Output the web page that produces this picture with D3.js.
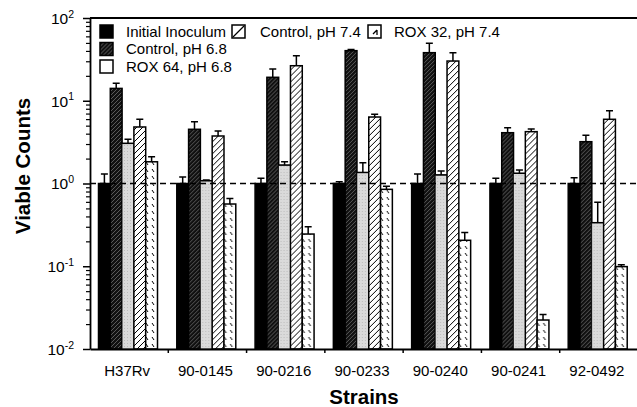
<!DOCTYPE html>
<html>
<head>
<meta charset="utf-8">
<script src="https://cdn.jsdelivr.net/npm/d3@7"></script>
<style>
  body { margin: 0; background: #fff; }
  text { font-family: "Liberation Sans", Arial, Helvetica, sans-serif; }
</style>
</head>
<body>
<div id="chart"></div>
<script>
// strains on the x axis
var strains = ["H37Rv", "90-0145", "90-0216", "90-0233", "90-0240", "90-0241", "92-0492"];
var seriesNames = ["Initial Inoculum", "Control, pH 6.8", "ROX 64, pH 6.8", "Control, pH 7.4", "ROX 32, pH 7.4"];

// bar heights (viable counts, relative)
var initialInoculum = [1, 1, 1, 1, 1, 1, 1];
var control68 = [14.1, 4.52, 19.2, 40.3, 38.1, 4.11, 3.2];
var rox64 = [3.06, 1.08, 1.67, 1.36, 1.27, 1.33, 0.336];
var control74 = [4.82, 3.75, 26.5, 6.36, 30.2, 4.23, 5.97];
var rox32 = [1.83, 0.565, 0.245, 0.85, 0.206, 0.0224, 0.099];

// top of the error bars
var initialInoculumErr = [1.30, 1.2, 1.16, 1.05, 1.30, 1.16, 1.17];
var control68Err = [16.3, 5.58, 24.2, 41.5, 49.5, 4.72, 3.82];
var rox64Err = [3.42, 1.1, 1.83, 1.78, 1.42, 1.46, 0.593];
var control74Err = [5.97, 4.3, 35, 6.86, 38, 4.56, 7.59];
var rox32Err = [2.11, 0.66, 0.30, 0.925, 0.255, 0.0262, 0.104];

var yTicks = [0.01, 0.1, 1, 10, 100];
var yTickExp = ["-2", "-1", "0", "1", "2"];

var values = [initialInoculum, control68, rox64, control74, rox32];
var errs = [initialInoculumErr, control68Err, rox64Err, control74Err, rox32Err];
var fills = ["#000", "url(#darkHatch)", "url(#grayDots)", "url(#lineHatch)", "url(#dashHatch)"];

var width = 637, height = 407;
var plotLeft = 90, plotRight = 638, plotTop = 18, plotBottom = 349;

var svg = d3.select("#chart").append("svg")
    .attr("width", width)
    .attr("height", height);

// patterns
var defs = svg.append("defs");

var p1 = defs.append("pattern").attr("id", "darkHatch")
    .attr("patternUnits", "userSpaceOnUse").attr("width", 4).attr("height", 4);
p1.append("rect").attr("width", 4).attr("height", 4).attr("fill", "#111");
p1.append("path").attr("d", "M-1,1 l2,-2 M0,4 l4,-4 M3,5 l2,-2")
    .attr("stroke", "#8c8c8c").attr("stroke-width", 0.6);

var p2 = defs.append("pattern").attr("id", "grayDots")
    .attr("patternUnits", "userSpaceOnUse").attr("width", 3).attr("height", 3);
p2.append("rect").attr("width", 3).attr("height", 3).attr("fill", "#dadada");
p2.append("rect").attr("x", 1).attr("y", 1).attr("width", 1).attr("height", 1).attr("fill", "#bcbcbc");

var p3 = defs.append("pattern").attr("id", "lineHatch")
    .attr("patternUnits", "userSpaceOnUse").attr("width", 6).attr("height", 6);
p3.append("rect").attr("width", 6).attr("height", 6).attr("fill", "#fff");
p3.append("path").attr("d", "M-1,1 l2,-2 M0,6 l6,-6 M5,7 l2,-2")
    .attr("stroke", "#000").attr("stroke-width", 1);

var p4 = defs.append("pattern").attr("id", "dashHatch")
    .attr("patternUnits", "userSpaceOnUse").attr("width", 6).attr("height", 7);
p4.append("rect").attr("width", 6).attr("height", 7).attr("fill", "#fff");
p4.append("path").attr("d", "M2,1 l2,3")
    .attr("stroke", "#000").attr("stroke-width", 1);

// scales
var x0 = d3.scaleBand()
    .domain(strains)
    .range([plotLeft, plotRight]);

var x1 = d3.scaleBand()
    .domain(d3.range(seriesNames.length))
    .range([8.5, 67.5]);

var y = d3.scaleLog()
    .domain([0.01, 100])
    .range([plotBottom, plotTop]);

// bars
var groups = svg.selectAll(".grp")
    .data(strains)
    .join("g")
      .attr("class", "grp")
      .attr("transform", function(d) { return "translate(" + x0(d) + ",0)"; });

groups.each(function(strain, i) {
  var g = d3.select(this);
  var rows = seriesNames.map(function(s, k) {
    return { k: k, v: values[k][i], e: errs[k][i] };
  });

  // error bars
  g.selectAll(".err")
    .data(rows)
    .join("path")
      .attr("class", "err")
      .attr("fill", "none")
      .attr("stroke", "#000")
      .attr("stroke-width", 1.5)
      .attr("d", function(d) {
        var cx = x1(d.k) + x1.bandwidth() / 2;
        return "M" + cx + "," + y(d.v) + "V" + y(d.e) + "M" + (cx - 3.5) + "," + y(d.e) + "H" + (cx + 3.5);
      });

  g.selectAll(".bar")
    .data(rows)
    .join("rect")
      .attr("class", "bar")
      .attr("x", function(d) { return x1(d.k); })
      .attr("y", function(d) { return y(d.v); })
      .attr("width", x1.bandwidth())
      .attr("height", function(d) { return plotBottom - y(d.v); })
      .attr("fill", function(d) { return fills[d.k]; })
      .attr("stroke", "#000")
      .attr("stroke-width", function(d) { return d.k == 2 ? 0.6 : 1.5; });

  // gray bars only have a dark top edge
  g.selectAll(".cap")
    .data(rows.filter(function(d) { return d.k == 2; }))
    .join("line")
      .attr("class", "cap")
      .attr("x1", function(d) { return x1(d.k); })
      .attr("x2", function(d) { return x1(d.k) + x1.bandwidth(); })
      .attr("y1", function(d) { return y(d.v); })
      .attr("y2", function(d) { return y(d.v); })
      .attr("stroke", "#000")
      .attr("stroke-width", 1.5);
});

// dashed reference line at 1
svg.append("line")
    .attr("x1", plotLeft).attr("x2", plotRight)
    .attr("y1", y(1)).attr("y2", y(1))
    .attr("stroke", "#000")
    .attr("stroke-width", 1.5)
    .attr("stroke-dasharray", "6,4");

// top border
svg.append("line")
    .attr("x1", plotLeft).attr("x2", plotRight)
    .attr("y1", plotTop).attr("y2", plotTop)
    .attr("stroke", "#000")
    .attr("stroke-width", 1.8);

// y axis: minor ticks
var minor = [];
yTicks.slice(0, -1).forEach(function(t) {
  for (var m = 2; m < 10; m++) minor.push(t * m);
});

svg.append("g")
    .attr("transform", "translate(" + plotLeft + ",0)")
    .call(d3.axisLeft(y).tickValues(minor).tickSize(4).tickFormat(""))
    .call(function(g) { g.select(".domain").remove(); })
    .call(function(g) { g.selectAll(".tick line").attr("stroke-width", 1.2); });

var yAxis = svg.append("g")
    .attr("transform", "translate(" + plotLeft + ",0)")
    .call(d3.axisLeft(y).tickValues(yTicks).tickSize(7).tickSizeOuter(0).tickPadding(9).tickFormat(""));

yAxis.select(".domain").attr("stroke-width", 1.8);
yAxis.selectAll(".tick line").attr("stroke-width", 1.5);
yAxis.selectAll(".tick text").each(function(d, i) {
  var t = d3.select(this)
      .attr("font-size", 15.5)
      .attr("fill", "#000")
      .attr("dy", "0.35em");
  t.append("tspan").text("10");
  t.append("tspan").attr("font-size", 10.5).attr("dy", "-0.6em").text(yTickExp[i]);
});

// x axis
var xAxis = svg.append("g")
    .attr("transform", "translate(0," + plotBottom + ")")
    .call(d3.axisBottom(x0).tickSize(0).tickPadding(16).tickSizeOuter(0));

xAxis.select(".domain").attr("stroke-width", 1.8);
xAxis.selectAll(".tick text")
    .attr("font-size", 15)
    .attr("fill", "#000")
    .attr("dx", -2);

// group separators
svg.append("g")
  .selectAll("line")
  .data(strains.slice(1))
  .join("line")
    .attr("x1", function(d) { return x0(d); })
    .attr("x2", function(d) { return x0(d); })
    .attr("y1", plotBottom)
    .attr("y2", plotBottom + 4)
    .attr("stroke", "#000")
    .attr("stroke-width", 1.5);

// axis titles
svg.append("text")
    .attr("x", (plotLeft + plotRight) / 2)
    .attr("y", 404)
    .attr("text-anchor", "middle")
    .attr("font-size", 20.5)
    .attr("font-weight", "bold")
    .text("Strains");

svg.append("text")
    .attr("transform", "translate(30,166) rotate(-90)")
    .attr("text-anchor", "middle")
    .attr("font-size", 20.5)
    .attr("font-weight", "bold")
    .text("Viable Counts");

// legend
var legendPos = [
  { x: 100, y: 25 }, { x: 100, y: 42.5 }, { x: 100, y: 60 },
  { x: 232, y: 25 }, { x: 368, y: 25 }
];
var legendFills = ["#000", "url(#darkHatch)", "#fff", "#fff", "#fff"];

var legend = svg.append("g");
var items = legend.selectAll("g")
    .data(seriesNames)
    .join("g")
      .attr("transform", function(d, i) { return "translate(" + legendPos[i].x + "," + legendPos[i].y + ")"; });

items.append("rect")
    .attr("width", 13).attr("height", 13)
    .attr("fill", function(d, i) { return legendFills[i]; })
    .attr("stroke", "#000")
    .attr("stroke-width", 1.5);

items.filter(function(d, i) { return i == 3; })
  .append("path").attr("d", "M1,12 L12,1").attr("stroke", "#000").attr("stroke-width", 1.3);
items.filter(function(d, i) { return i == 4; })
  .append("path").attr("d", "M5,9 L9,5 M9,5 V10").attr("stroke", "#000").attr("stroke-width", 1.3).attr("fill", "none");

items.append("text")
    .attr("x", function(d, i) { return i == 3 ? 28 : 26; })
    .attr("y", 6.5)
    .attr("dy", "0.35em")
    .attr("font-size", 15)
    .text(function(d) { return d; });
</script>
</body>
</html>
